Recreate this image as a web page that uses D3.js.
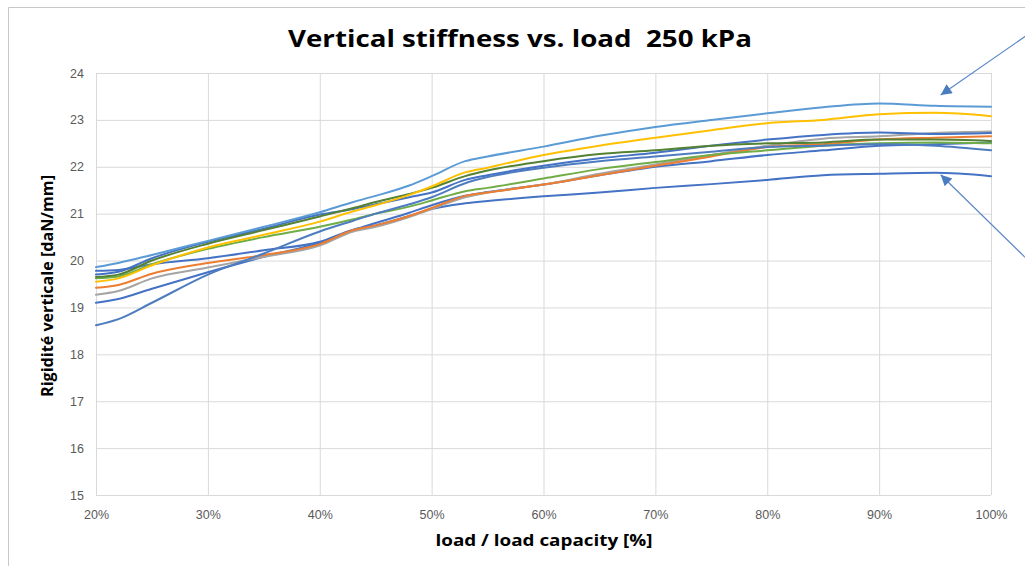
<!DOCTYPE html>
<html>
<head>
<meta charset="utf-8">
<script src="https://cdn.jsdelivr.net/npm/d3@7"></script>
<style>
  body { margin: 0; background: #fff; }
  svg { display: block; }
</style>
</head>
<body>
<script>
var svgWidth = 1025;
var svgHeight = 566;

// load / load capacity (%) where each curve was read
var loadPct = [20, 22, 25, 30, 35, 40, 43, 45, 48, 50, 53, 55, 60, 65, 70, 75, 80, 85, 90, 95, 100];

// vertical stiffness (daN/mm), one array per tyre
var tyreLightBlue = [19.86, 19.95, 20.12, 20.42, 20.72, 21.03, 21.25, 21.38, 21.60, 21.80, 22.12, 22.22, 22.43, 22.66, 22.85, 23.00, 23.14, 23.27, 23.35, 23.30, 23.28];
var tyreYellow    = [19.55, 19.62, 19.90, 20.28, 20.55, 20.83, 21.05, 21.18, 21.40, 21.58, 21.88, 21.98, 22.25, 22.45, 22.62, 22.78, 22.93, 23.00, 23.12, 23.15, 23.08];
var tyreDarkGreen = [19.65, 19.70, 20.00, 20.36, 20.65, 20.94, 21.12, 21.25, 21.42, 21.55, 21.80, 21.92, 22.12, 22.27, 22.35, 22.45, 22.50, 22.52, 22.58, 22.58, 22.55];
var tyreBlueA     = [19.70, 19.76, 20.05, 20.40, 20.68, 20.98, 21.10, 21.20, 21.35, 21.45, 21.72, 21.82, 22.02, 22.18, 22.30, 22.45, 22.58, 22.68, 22.73, 22.70, 22.72];
var tyreSteel     = [18.62, 18.75, 19.10, 19.70, 20.15, 20.62, 20.85, 21.00, 21.20, 21.35, 21.65, 21.78, 21.98, 22.12, 22.22, 22.32, 22.42, 22.45, 22.48, 22.45, 22.35];
var tyreGreen     = [19.62, 19.66, 19.92, 20.25, 20.50, 20.72, 20.88, 21.00, 21.15, 21.28, 21.48, 21.55, 21.75, 21.95, 22.10, 22.25, 22.35, 22.45, 22.50, 22.52, 22.50];
var tyreOrange    = [19.42, 19.48, 19.72, 19.95, 20.12, 20.35, 20.65, 20.75, 20.95, 21.12, 21.38, 21.45, 21.62, 21.82, 22.02, 22.22, 22.42, 22.48, 22.58, 22.62, 22.65];
var tyreGray      = [19.27, 19.35, 19.62, 19.85, 20.08, 20.32, 20.62, 20.72, 20.93, 21.10, 21.35, 21.45, 21.62, 21.85, 22.05, 22.25, 22.45, 22.60, 22.65, 22.72, 22.75];
var tyreBlueB     = [19.10, 19.18, 19.40, 19.75, 20.08, 20.38, 20.65, 20.80, 21.02, 21.18, 21.38, 21.46, 21.62, 21.82, 22.00, 22.12, 22.25, 22.35, 22.45, 22.48, 22.52];
var tyreBlueLow   = [19.78, 19.80, 19.92, 20.05, 20.22, 20.40, 20.66, 20.75, 20.95, 21.10, 21.22, 21.27, 21.37, 21.45, 21.55, 21.63, 21.72, 21.82, 21.85, 21.87, 21.80];

var seriesValues = [tyreBlueLow, tyreBlueB, tyreGray, tyreOrange, tyreGreen, tyreSteel, tyreBlueA, tyreDarkGreen, tyreYellow, tyreLightBlue];
var seriesColors = ["#4472C4", "#4472C4", "#A5A5A5", "#ED7D31", "#70AD47", "#4E7DBF", "#4472C4", "#548235", "#FFC000", "#5B9BD5"];

// tick labels
var xTicks = [20, 30, 40, 50, 60, 70, 80, 90, 100];
var yTicks = [15, 16, 17, 18, 19, 20, 21, 22, 23, 24];

// the two arrows drawn on the chart (tail -> tip, in chart units)
var arrows = [
    { x1: 104.8, y1: 25.07, x2: 95.5, y2: 23.53 },
    { x1: 104.8, y1: 19.66, x2: 95.5, y2: 21.83 }
];

var svg = d3.select("body").append("svg").attr("width", svgWidth).attr("height", svgHeight);

// chart area border (cut by the screenshot on the right/bottom)
svg.append("path")
    .attr("d", "M8.5," + svgHeight + "V7.5H" + svgWidth)
    .attr("fill", "none")
    .attr("stroke", "#c8c8c8")
    .attr("stroke-width", 1);

var x = d3.scaleLinear().domain([20, 100]).range([96, 991]);
var y = d3.scaleLinear().domain([15, 24]).range([495, 73]);

// gridlines
svg.append("g")
    .attr("transform", "translate(0,495)")
    .call(d3.axisBottom(x).tickValues(xTicks).tickSize(-422).tickFormat(""))
    .call(function(g) {
        g.select(".domain").remove();
        g.selectAll("line").attr("stroke", "#d9d9d9");
    });

svg.append("g")
    .attr("transform", "translate(96,0)")
    .call(d3.axisLeft(y).tickValues(yTicks).tickSize(-895).tickFormat(""))
    .call(function(g) {
        g.select(".domain").remove();
        g.selectAll("line").attr("stroke", "#d9d9d9");
    });

// tick labels
svg.append("g")
    .attr("transform", "translate(0,495)")
    .call(d3.axisBottom(x).tickValues(xTicks).tickSize(0).tickPadding(15).tickFormat(function(d) { return d + "%"; }))
    .call(function(g) {
        g.select(".domain").remove();
        g.selectAll("text")
            .attr("fill", "#595959")
            .style("font-family", "'Liberation Sans', Arial, sans-serif")
            .style("font-size", "12.5px");
    });

svg.append("g")
    .attr("transform", "translate(96,0)")
    .call(d3.axisLeft(y).tickValues(yTicks).tickSize(0).tickPadding(12))
    .call(function(g) {
        g.select(".domain").remove();
        g.selectAll("text")
            .attr("fill", "#595959")
            .style("font-family", "'Liberation Sans', Arial, sans-serif")
            .style("font-size", "12.5px");
    });

// curves
var line = d3.line()
    .x(function(d, i) { return x(loadPct[i]); })
    .y(function(d) { return y(d); })
    .curve(d3.curveMonotoneX);

svg.append("g").selectAll("path")
    .data(seriesValues)
    .join("path")
    .attr("d", function(d) { return line(d); })
    .attr("fill", "none")
    .attr("stroke", function(d, i) { return seriesColors[i]; })
    .attr("stroke-width", 2)
    .attr("stroke-linejoin", "round")
    .attr("stroke-linecap", "round");

// arrows
svg.append("defs").append("marker")
    .attr("id", "head")
    .attr("viewBox", "0 0 10 10")
    .attr("refX", 10)
    .attr("refY", 5)
    .attr("markerUnits", "userSpaceOnUse")
    .attr("markerWidth", 14)
    .attr("markerHeight", 11)
    .attr("orient", "auto")
    .append("path")
    .attr("d", "M0,0L10,5L0,10Z")
    .attr("fill", "#4A7CC0");

svg.append("g").selectAll("line")
    .data(arrows)
    .join("line")
    .attr("x1", function(d) { return x(d.x1); })
    .attr("y1", function(d) { return y(d.y1); })
    .attr("x2", function(d) { return x(d.x2); })
    .attr("y2", function(d) { return y(d.y2); })
    .attr("stroke", "#5A86C4")
    .attr("stroke-width", 1.2)
    .attr("marker-end", "url(#head)");

// titles
svg.append("text")
    .attr("x", 520)
    .attr("y", 47)
    .attr("text-anchor", "middle")
    .attr("textLength", 464)
    .attr("lengthAdjust", "spacingAndGlyphs")
    .style("white-space", "pre")
    .style("font-family", "'Open Sans', 'Liberation Sans', sans-serif")
    .style("font-weight", "bold")
    .style("font-size", "23px")
    .attr("fill", "#000")
    .text("Vertical stiffness vs. load  250 kPa");

svg.append("text")
    .attr("x", 544)
    .attr("y", 546)
    .attr("text-anchor", "middle")
    .attr("textLength", 217)
    .attr("lengthAdjust", "spacingAndGlyphs")
    .style("font-family", "'Open Sans', 'Liberation Sans', sans-serif")
    .style("font-weight", "bold")
    .style("font-size", "16px")
    .attr("fill", "#000")
    .text("load / load capacity [%]");

svg.append("text")
    .attr("transform", "translate(53,286) rotate(-90)")
    .attr("text-anchor", "middle")
    .attr("textLength", 222)
    .attr("lengthAdjust", "spacingAndGlyphs")
    .style("font-family", "'Open Sans', 'Liberation Sans', sans-serif")
    .style("font-weight", "bold")
    .style("font-size", "16px")
    .attr("fill", "#000")
    .text("Rigidité verticale [daN/mm]");
</script>
</body>
</html>
